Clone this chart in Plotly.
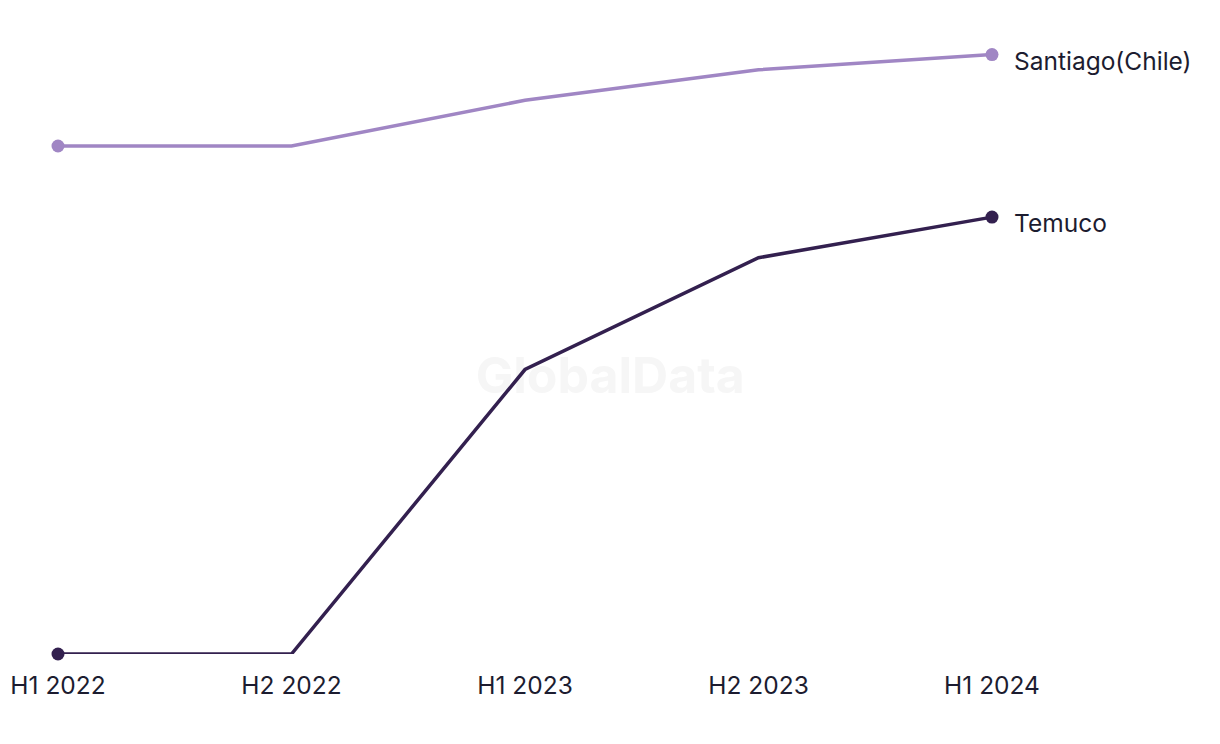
import plotly.graph_objects as go

periods = ["H1 2022", "H2 2022", "H1 2023", "H2 2023", "H1 2024"]
santiago = [100, 100, 109, 115, 118]
temuco = [0, 0, 56, 78, 86]

series = [
    ("Santiago(Chile)", santiago, "#a086c4"),
    ("Temuco", temuco, "#33204f"),
]

TEXT = "#1c1c30"
FONT = "Inter, 'Open Sans', sans-serif"

fig = go.Figure()
for name, vals, color in series:
    fig.add_trace(go.Scatter(
        x=list(range(len(periods))), y=vals,
        mode="lines",
        line=dict(color=color, width=3.5),
        cliponaxis=False,
        name=name,
        hovertemplate="%{y}<extra></extra>",
    ))
    # solo primer y ultimo punto con marcador
    ends = [0, len(periods) - 1]
    fig.add_trace(go.Scatter(
        x=ends, y=[vals[i] for i in ends],
        mode="markers",
        marker=dict(size=13, color=color, opacity=1, line=dict(width=0)),
        cliponaxis=False,
        hoverinfo="skip",
    ))
    fig.add_annotation(
        x=len(periods) - 1, y=vals[-1], text=name,
        xanchor="left", yanchor="middle", xshift=20, yshift=-6,
        showarrow=False, font=dict(size=24.5, color=TEXT, family=FONT),
    )

# marca de agua, debajo de las lineas
fig.add_shape(
    type="rect", xref="paper", yref="paper", x0=0.272, x1=0.672, y0=0.343, y1=0.543,
    line=dict(width=0), fillcolor="rgba(0,0,0,0)", layer="below",
    label=dict(text="<b>GlobalData</b>", font=dict(size=50, color="#f6f6f6", family=FONT)),
)

fig.update_layout(
    width=1220, height=744,
    margin=dict(l=50, r=0, t=12, b=98),
    paper_bgcolor="white", plot_bgcolor="white",
    showlegend=False,
    font=dict(family=FONT, color=TEXT, size=24),
)
fig.update_xaxes(
    range=[0, 1170 / 233.5],
    tickmode="array", tickvals=list(range(len(periods))), ticktext=periods,
    showgrid=False, zeroline=False, showline=False, ticks="",
    ticklabelstandoff=14,
    tickfont=dict(size=24.5, color=TEXT),
)
fig.update_yaxes(
    range=[0, 634 / 5.08],
    showgrid=False, zeroline=False, showline=False, showticklabels=False,
)

fig.write_html("out.html")
